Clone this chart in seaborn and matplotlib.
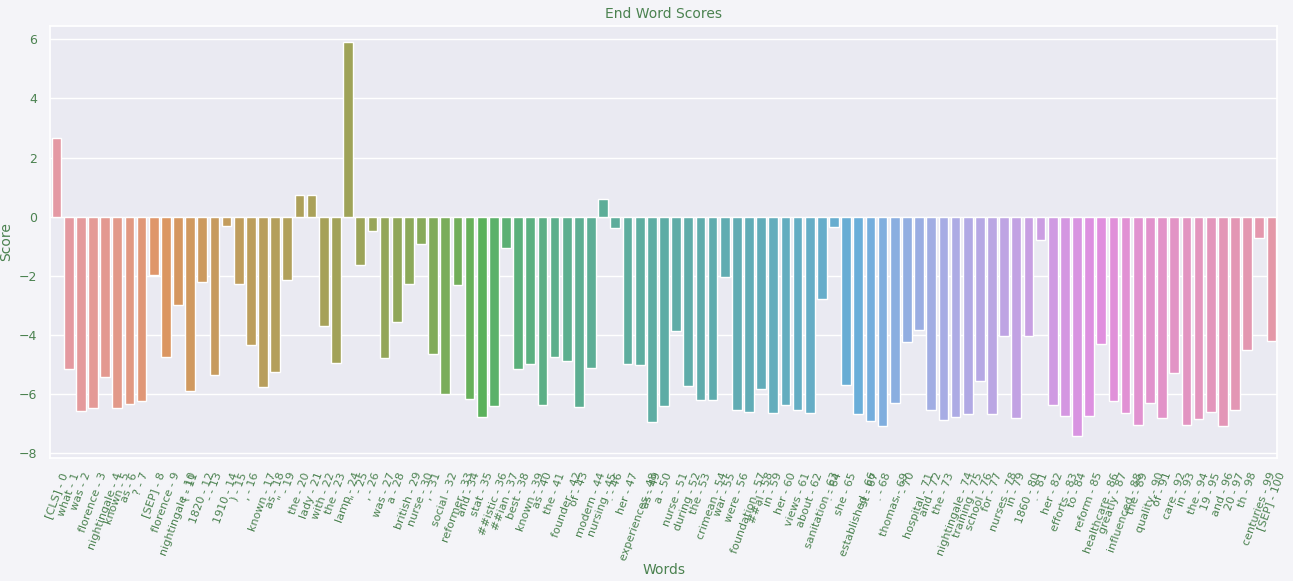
import numpy as np
import pandas as pd
import matplotlib
matplotlib.use("Agg")
import matplotlib.pyplot as plt
import seaborn as sns

tokens = [
    "[CLS]", "what", "was", "florence", "nightingale", "known", "as", "?", "[SEP]",
    "florence", "nightingale", "(", "1820", "-", "1910", ")", ",", "known", "as",
    "\"", "the", "lady", "with", "the", "lamp", "\"", ",", "was", "a", "british",
    "nurse", ",", "social", "reformer", "and", "stat", "##istic", "##ian", "best",
    "known", "as", "the", "founder", "of", "modern", "nursing", ".", "her",
    "experiences", "as", "a", "nurse", "during", "the", "crimean", "war", "were",
    "foundation", "##al", "in", "her", "views", "about", "sanitation", ".", "she",
    "established", "st", ".", "thomas", "'", "hospital", "and", "the",
    "nightingale", "training", "school", "for", "nurses", "in", "1860", ".",
    "her", "efforts", "to", "reform", "healthcare", "greatly", "influenced",
    "the", "quality", "of", "care", "in", "the", "19", "and", "20", "th",
    "centuries", "[SEP]",
]

end_scores = [
    2.65, -5.16, -6.56, -6.47, -5.43, -6.47, -6.34, -6.24, -1.98, -4.75,
    -3.00, -5.90, -2.22, -5.36, -0.33, -2.29, -4.35, -5.77, -5.26, -2.15,
    0.72, 0.72, -3.69, -4.94, 5.89, -1.63, -0.48, -4.77, -3.56, -2.27,
    -0.92, -4.64, -5.99, -2.31, -6.16, -6.77, -6.40, -1.06, -5.15, -4.98,
    -6.36, -4.75, -4.89, -6.44, -5.12, 0.59, -0.39, -4.99, -5.02, -6.95,
    -6.41, -3.87, -5.73, -6.20, -6.20, -2.05, -6.54, -6.61, -5.83, -6.64,
    -6.37, -6.54, -6.64, -2.79, -0.36, -5.70, -6.68, -6.91, -7.08, -6.31,
    -4.25, -3.84, -6.54, -6.88, -6.78, -6.68, -5.56, -6.68, -4.04, -6.81,
    -4.04, -0.80, -6.37, -6.75, -7.42, -6.75, -4.31, -6.24, -6.64, -7.05,
    -6.31, -6.81, -5.29, -7.05, -6.85, -6.61, -7.08, -6.54, -4.52, -0.73,
    -4.21,
]

token_labels = ["{} - {}".format(t, i) for i, t in enumerate(tokens)]


def main():
    sns.set_theme(style="darkgrid")
    text_color = "#4b8250"
    plt.rcParams["text.color"] = text_color
    plt.rcParams["axes.labelcolor"] = text_color
    plt.rcParams["xtick.color"] = text_color
    plt.rcParams["ytick.color"] = text_color
    plt.rcParams["font.family"] = ["DejaVu Sans"]

    df = pd.DataFrame({"label": token_labels, "score": end_scores})

    # a lighter husl palette, closer to the reference's pastel bars
    colors = sns.husl_palette(len(token_labels), l=0.7, s=0.8)

    fig, ax = plt.subplots()
    fig.set_size_inches(12.93, 5.81)
    fig.set_facecolor("#f4f4f8")
    fig.subplots_adjust(left=0.039, right=0.988, top=0.955, bottom=0.212)

    sns.barplot(data=df, x="label", y="score", hue="label", palette=colors,
                legend=False, errorbar=None, ax=ax)

    ax.set_ylim(-8.15, 6.44)
    plt.xticks(rotation=70, fontsize=8)
    plt.yticks(fontsize=9)
    ax.set_xlabel("Words", fontsize=10, labelpad=1)
    ax.set_ylabel("Score", fontsize=10)
    ax.set_title("End Word Scores", fontsize=10)

    plt.savefig("out.png", dpi=100, facecolor=fig.get_facecolor())


if __name__ == "__main__":
    main()
